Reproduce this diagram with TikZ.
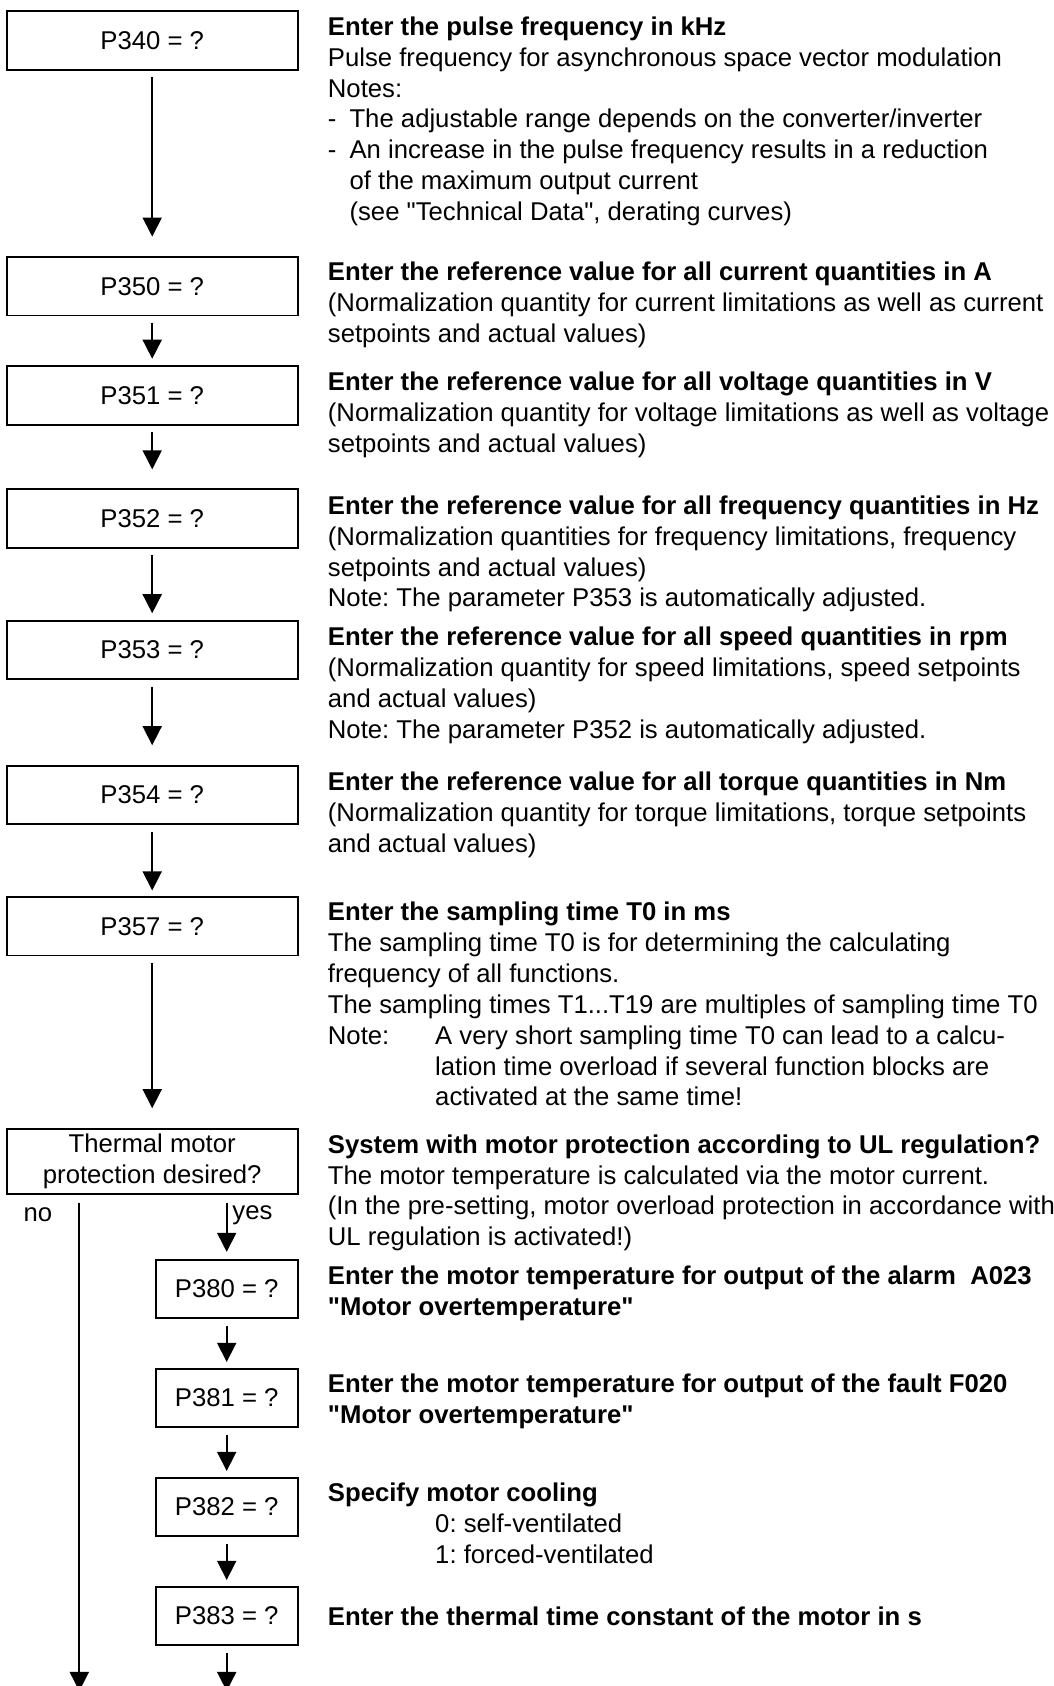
\documentclass[tikz,border=0pt]{standalone}
\usepackage{fontspec}
\setmainfont{Liberation Sans}[Ligatures=TeXOff]
\usetikzlibrary{positioning,calc,arrows.meta}

\newcommand{\itm}{\makebox[10.1pt][l]{-}}
\newcommand{\ind}{\hspace*{10.1pt}}
\newcommand{\notelbl}{\makebox[50.1pt][l]{Note:}}
\newcommand{\indnote}{\hspace*{50.1pt}}
\frenchspacing

\begin{document}
\begin{tikzpicture}[
  x=0.467pt, y=-0.467pt,
  >={Triangle[length=8.9pt, width=8.9pt]},
  every node/.style={font=\fontsize{12}{14.4}\selectfont, inner sep=0pt},
  box/.style={draw, line width=0.8pt, minimum width=135.9pt, minimum height=27.3pt, align=center},
  smallbox/.style={box, minimum width=66.3pt},
  question/.style={box, minimum height=30.4pt},
  desc/.style={anchor=north west, align=left},
  flow/.style={->, line width=0.8pt, shorten <=3pt}
]
\useasboundingbox (0,0) rectangle (1054,1686);

% parameter boxes
\node[box] (p340) at (152.2,40.5) {P340 = ?};
\node[box] (p350) at (152.2,286.2) {P350 = ?};
\node[box] (p351) at (152.2,395.5) {P351 = ?};
\node[box] (p352) at (152.2,518.5) {P352 = ?};
\node[box] (p353) at (152.2,650) {P353 = ?};
\node[box] (p354) at (152.2,795) {P354 = ?};
\node[box] (p357) at (152.2,926.3) {P357 = ?};
\node[question] (therm) at (152.2,1161.5) {Thermal motor\\protection desired?};

\node[smallbox] (p380) at (226.7,1289) {P380 = ?};
\node[smallbox] (p381) at (226.7,1398) {P381 = ?};
\node[smallbox] (p382) at (226.7,1507) {P382 = ?};
\node[smallbox] (p383) at (226.7,1616) {P383 = ?};

\node (no) at (38,1215) {no};
\node[anchor=west] (yes) at (232,1215) {yes};

\coordinate (noend) at (79.3,1691);
\coordinate (yesend) at (p383.south |- noend);

% descriptions
\node[desc] (d340) at (327.5,16.4) {\textbf{Enter the pulse frequency in kHz}\\
Pulse frequency for asynchronous space vector modulation\\
Notes:\\
\itm The adjustable range depends on the converter/inverter\\
\itm An increase in the pulse frequency results in a reduction\\
\ind of the maximum output current\\
\ind (see "Technical Data", derating curves)};

\node[desc] (d350) at (327.5,261.9) {\textbf{Enter the reference value for all current quantities in A}\\
(Normalization quantity for current limitations as well as current\\
setpoints and actual values)};

\node[desc] (d351) at (327.5,371.6) {\textbf{Enter the reference value for all voltage quantities in V}\\
(Normalization quantity for voltage limitations as well as voltage\\
setpoints and actual values)};

\node[desc] (d352) at (327.5,495.3) {\textbf{Enter the reference value for all frequency quantities in Hz}\\
(Normalization quantities for frequency limitations, frequency\\
setpoints and actual values)\\
Note: The parameter P353 is automatically adjusted.};

\node[desc] (d353) at (327.5,626.5) {\textbf{Enter the reference value for all speed quantities in rpm}\\
(Normalization quantity for speed limitations, speed setpoints\\
and actual values)\\
Note: The parameter P352 is automatically adjusted.};

\node[desc] (d354) at (327.5,771.7) {\textbf{Enter the reference value for all torque quantities in Nm}\\
(Normalization quantity for torque limitations, torque setpoints\\
and actual values)};

\node[desc] (d357) at (327.5,901.9) {\textbf{Enter the sampling time T0 in ms}\\
The sampling time T0 is for determining the calculating\\
frequency of all functions.\\
The sampling times T1...T19 are multiples of sampling time T0\\
\notelbl A very short sampling time T0 can lead to a calcu-\\
\indnote lation time overload if several function blocks are\\
\indnote activated at the same time!};

\node[desc] (dtherm) at (327.5,1134.2) {\textbf{System with motor protection according to UL regulation?}\\
The motor temperature is calculated via the motor current.\\
(In the pre-setting, motor overload protection in accordance with\\
UL regulation is activated!)};

\node[desc] (d380) at (327.5,1265.4) {\textbf{Enter the motor temperature for output of the alarm\ \ A023}\\
\textbf{"Motor overtemperature"}};

\node[desc] (d381) at (327.5,1373.9) {\textbf{Enter the motor temperature for output of the fault F020}\\
\textbf{"Motor overtemperature"}};

\node[desc] (d382) at (327.5,1482.4) {\textbf{Specify motor cooling}\\
\indnote 0: self-ventilated\\
\indnote 1: forced-ventilated};

\node[desc] (d383) at (327.5,1606.9) {\textbf{Enter the thermal time constant of the motor in s}};

% connectors
\draw[flow, shorten >=9.1pt] (p340) -- (p350);
\draw[flow, shorten >=3.1pt] (p350) -- (p351);
\draw[flow, shorten >=8.9pt] (p351) -- (p352);
\draw[flow, shorten >=3.1pt] (p352) -- (p353);
\draw[flow, shorten >=9.2pt] (p353) -- (p354);
\draw[flow, shorten >=2.7pt] (p354) -- (p357);
\draw[flow, shorten >=9.3pt] (p357) -- (therm);

\draw[flow, shorten <=3.6pt, shorten >=3.3pt] (therm.south -| p380) -- (p380);
\draw[flow, shorten <=3.6pt] (therm.south -| noend) -- (noend);
\draw[flow, shorten >=2.8pt] (p380) -- (p381);
\draw[flow, shorten >=2.8pt] (p381) -- (p382);
\draw[flow, shorten >=2.8pt] (p382) -- (p383);
\draw[flow] (p383) -- (yesend);

\end{tikzpicture}
\end{document}
